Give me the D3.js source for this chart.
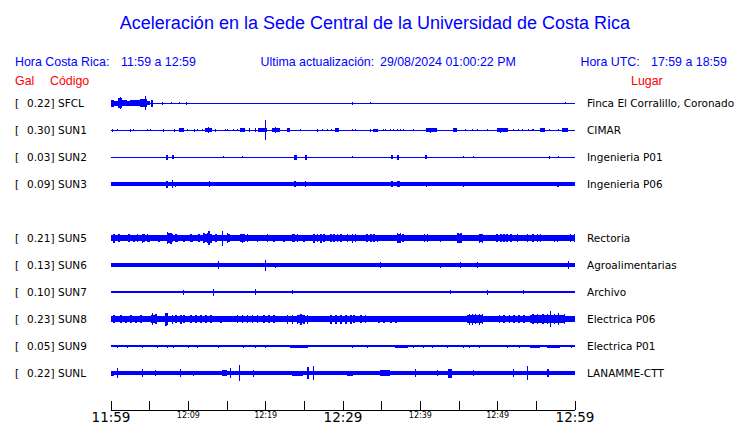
<!DOCTYPE html>
<html><head><meta charset="utf-8">
<script src="https://cdn.jsdelivr.net/npm/d3@7"></script>
<style>body{margin:0;background:#fff}svg{display:block}</style>
</head><body>
<script>
// ---- data ----
const title = "Aceleración en la Sede Central de la Universidad de Costa Rica";
const horaCR = "11:59 a 12:59";
const horaUTC = "17:59 a 18:59";
const actualizacion = "29/08/2024 01:00:22 PM";
const slots = ["SFCL","SUN1","SUN2","SUN3","gap","SUN5","SUN6","SUN7","SUN8","SUN9","SUNL"];
const codes = ["SFCL","SUN1","SUN2","SUN3","SUN5","SUN6","SUN7","SUN8","SUN9","SUNL"];
const gals = [0.22,0.30,0.03,0.09,0.21,0.13,0.10,0.23,0.05,0.22];
const lugares = ["Finca El Corralillo, Coronado","CIMAR","Ingenieria P01","Ingenieria P06","Rectoria","Agroalimentarias","Archivo","Electrica P06","Electrica P01","LANAMME-CTT"];
// background noise half-amplitude per station (relative units)
const baseAmp = [0.5,0.5,0.5,1.6,3,1.7,1.4,3,0.6,1.8];
// bursts: [start minute, end minute, half-amplitude]
const evSFCL = [[0.0,0.45,3.5],[0.45,1.0,2.5],[1.0,1.5,5],[1.2,1.35,6],[1.5,2.1,3],[2.1,2.5,2.5],[2.5,3.8,3],[3.8,4.7,4],[4.4,4.6,7],[4.7,5.1,2],[5.2,5.5,3.5],[6.6,6.8,1.5],[7.8,7.95,1],[8.9,9.05,1],[9.75,9.95,1.5],[31.2,31.4,1.5],[33.5,33.65,1],[58.8,58.95,1]];
const evSUN1 = [[0.19,0.32,1.5],[0.84,0.97,1],[2.5,2.65,1.5],[2.9,3.05,1],[4.7,4.85,1],[5.1,5.25,1],[6.8,6.95,1.5],[8.2,8.35,1.5],[8.86,9.5,2],[9.9,10.05,1],[10.8,10.95,1.5],[11.2,11.35,1],[11.84,12.0,1],[12.23,13.13,2],[12.6,12.75,3],[13.52,13.67,1.5],[14.8,14.95,1],[15.07,15.2,1],[15.85,16.0,1],[16.36,16.5,1],[16.75,17.4,2],[17.92,18.05,2],[18.69,18.85,2],[19.08,20.25,2],[19.99,20.12,10],[20.89,21.93,2],[21.3,21.45,3],[22.83,23.22,2],[24.51,24.65,1],[26.71,26.85,1.5],[27.36,27.5,1],[28.0,28.15,1],[28.52,28.65,1],[29.04,29.56,2],[31.24,31.4,1],[31.63,31.75,1],[33.57,33.7,1.5],[33.96,34.6,1.5],[35.25,35.4,1],[35.51,35.65,1],[36.16,36.3,1],[36.54,36.7,1],[37.06,37.2,1],[37.45,37.6,1],[37.84,38.0,1],[39.13,39.26,1],[40.81,42.24,2],[41.3,41.45,2.5],[44.31,44.82,2],[45.86,46.0,1],[46.77,46.9,1],[47.41,47.55,1],[48.7,48.85,1],[50.0,51.42,2],[50.4,50.55,2.5],[52.07,52.2,1],[52.72,52.85,1],[53.23,53.36,1],[54.01,54.15,1],[54.53,54.8,1],[55.56,56.21,2],[56.73,56.86,1],[57.89,58.0,1],[58.41,59.18,2]];
const evSUN2 = [[7.2,7.45,2.5],[7.96,8.15,2],[14.6,14.7,1],[16.95,17.1,1],[23.7,24.1,2.5],[25.1,25.45,2.5],[31.24,31.4,1],[36.3,36.55,2],[37.0,37.3,2.5],[40.7,40.95,2],[45.6,45.75,1],[46.89,47.0,0.8],[56.73,56.88,1.5],[57.89,58.0,1]];
const evSUN3 = [[7.2,7.45,3.5],[7.9,8.05,4],[8.3,8.45,2.5],[12.74,12.87,3],[23.74,24.0,3],[25.1,25.3,3],[31.24,31.4,2],[32.15,32.3,2],[36.3,36.55,3],[37.1,37.4,3],[40.8,40.95,2.5],[45.6,45.75,2.5],[55.17,55.3,2],[56.73,56.88,2],[57.8,58.0,2.5],[58.6,60,2]];
const evSUN5 = [[0.37,0.57,4.5],[1.01,1.21,4],[2.31,2.51,4],[2.95,3.15,3.5],[3.39,3.59,4],[4.03,4.23,4.5],[4.25,4.45,4],[4.68,4.88,4],[4.89,5.09,3.5],[6.19,6.39,3.5],[7.27,7.47,6],[7.48,7.68,5],[7.7,7.9,5.5],[7.91,8.11,4],[8.34,8.54,4],[8.56,8.76,3.5],[9.42,9.62,3.5],[10.28,10.48,4],[10.5,10.7,3.5],[11.36,11.56,4],[12.01,12.21,5],[12.22,12.42,4],[12.44,12.64,5],[12.66,12.86,7],[12.87,13.07,4.5],[13.52,13.72,4],[14.38,14.58,7.5],[15.03,15.23,5],[15.25,15.45,4],[16.76,16.96,4],[16.97,17.17,4.5],[17.19,17.39,4],[17.62,17.82,4],[18.91,19.11,3.5],[20.2,20.4,4],[21.06,21.26,3.5],[22.36,22.56,3.5],[23.44,23.64,4],[23.65,23.85,4],[24.08,24.28,4],[24.95,25.15,3.5],[26.24,26.44,4.5],[26.68,26.88,4],[27.11,27.31,4.5],[27.54,27.74,4],[28.4,28.6,4],[28.83,29.03,4],[29.26,29.46,4],[29.69,29.89,4],[30.55,30.75,4],[31.2,31.4,4.5],[31.6,31.8,4],[33.1,33.3,4],[33.6,33.8,4],[34.0,34.2,4],[34.4,34.6,3.5],[37.0,37.2,5],[37.2,37.4,4.5],[37.4,37.6,5],[37.7,37.9,4],[40.5,40.7,4],[40.9,41.1,4],[42.6,42.8,3.5],[44.8,45.0,5],[45.0,45.2,4.5],[45.2,45.4,5],[47.6,47.8,4.5],[47.8,48.0,4],[48.0,48.2,4.5],[49.9,50.1,4],[50.4,50.6,4],[50.8,51.0,4],[51.2,51.4,4],[51.7,51.9,4],[52.5,52.7,4],[53.8,54.0,4],[54.5,54.7,4],[55.1,55.3,4],[55.5,55.7,4],[57.3,57.5,3.5],[57.7,57.9,3.5],[59.4,59.6,4],[59.9,60,4]];
const evSUN6 = [[13.91,14.05,4],[19.99,20.12,5.5],[21.28,21.4,2.5],[34.86,35.0,3],[42.63,42.76,2.5],[45.21,45.34,3],[47.41,47.54,3],[59.18,59.3,4]];
const evSUN7 = [[9.38,9.5,2.5],[13.26,13.4,3.5],[18.69,18.82,3],[23.48,23.6,2],[43.92,44.05,2],[48.7,48.83,2.5],[53.36,53.5,2]];
const evSUN8 = [[0.37,0.57,3.8],[1.23,1.43,3.8],[1.88,2.08,3.5],[2.52,2.72,3.8],[3.17,3.37,3.5],[3.82,4.02,3.8],[5.2,6.0,3.8],[5.33,5.53,6],[5.76,5.96,5],[7.05,7.25,6.5],[7.27,7.47,6],[7.91,8.11,4.5],[8.34,8.54,4],[8.99,9.19,4.5],[9.42,9.62,4],[10.28,10.48,4],[10.93,11.13,4],[11.58,11.78,4],[12.22,12.42,4],[12.87,13.07,4],[14.17,14.37,3.5],[16.32,16.52,4],[16.97,17.17,4],[17.62,17.82,4],[18.27,18.47,4],[18.91,19.11,4],[19.77,19.97,4],[20.42,20.62,4],[21.06,21.26,4],[22.79,22.99,4.5],[23.44,23.64,4.5],[24.08,24.28,4.5],[24.3,25.2,3.8],[24.51,24.71,5.5],[24.95,25.15,4.5],[25.38,25.58,4.5],[28.4,28.6,4.5],[29.05,29.25,4.5],[29.69,29.89,4.5],[30.33,30.53,4.5],[30.98,31.18,4.5],[31.4,31.6,4],[32.3,32.5,4],[32.9,33.1,4],[34.6,34.8,3.5],[35.3,35.5,3.5],[36.2,36.4,3.5],[36.8,37.0,3.5],[46.1,48.2,4],[46.3,46.5,5.5],[46.7,46.9,5.5],[47.1,47.3,5],[47.6,47.8,5.5],[48.0,48.2,5],[50.2,50.4,4],[50.8,51.0,4],[51.5,51.7,4],[52.1,52.3,4],[52.7,52.9,4],[53.4,53.6,4],[54.3,58.7,3.8],[54.5,54.7,5],[55.1,55.3,5],[55.8,56.0,5],[56.4,56.6,5],[56.8,56.95,8],[57.3,57.5,5],[57.9,58.05,6],[58.6,58.8,5]];
const evSUN9 = [[0.84,0.97,1.5],[2.13,2.26,1.5],[2.91,3.04,1.2],[4.08,4.21,1.5],[5.37,5.5,1.2],[6.02,6.15,1.5],[7.31,7.44,1.5],[8.09,8.22,1.5],[8.99,9.12,1.2],[10.03,10.16,1.5],[11.19,11.32,1.5],[12.23,12.36,1.2],[13.91,14.04,1.5],[14.81,14.94,1.2],[17.14,17.27,1.5],[18.3,18.43,1.2],[18.69,18.82,1.5],[19.99,20.12,1.5],[21.93,22.06,1.2],[23.2,25.55,1.5],[31.24,31.37,1.5],[32.28,32.41,1.2],[33.18,33.31,1.5],[36.8,38.5,1.5],[39.13,39.26,1.5],[40.43,40.56,1.5],[41.0,41.13,1.2],[41.6,41.73,1.5],[43.53,43.66,1.5],[44.18,44.31,1.2],[45.6,45.73,1.5],[46.3,46.43,1.5],[46.9,47.03,1.2],[47.6,47.73,1.5],[49.48,49.61,1.2],[51.29,51.42,1.5],[52.0,52.13,1.2],[52.85,52.98,1.5],[54.27,55.56,1.5],[56.47,58.15,1.5],[59.57,59.7,1.5]];
const evSUNL = [[0,0.5,2.5],[0.84,0.97,5],[4.08,4.21,4],[5.76,5.89,3],[8.99,9.12,4],[10.67,10.8,2.5],[14.42,15.07,3],[15.46,15.59,5],[16.62,16.75,8],[18.43,18.56,3.5],[23.48,24.9,2.5],[25.42,25.68,6],[26.2,26.33,7],[30.6,31.37,2.5],[34.86,36.16,3],[39.39,39.52,4],[42.2,42.33,3],[43.66,44.18,4.5],[46.9,47.03,3],[52.07,52.2,4],[53.88,54.01,7],[56.4,56.7,4]];
const events = [evSFCL,evSUN1,evSUN2,evSUN3,evSUN5,evSUN6,evSUN7,evSUN8,evSUN9,evSUNL];
const tickMinutes = [0,5,10,15,20,25,30,35,40,45,50,55,60];
const tickLabels = ["11:59","","12:09","","12:19","","12:29","","12:39","","12:49","","12:59"];
const majorLabels = ["11:59","12:29","12:59"];

// ---- drawing ----
const W = 740, H = 423;
const svg = d3.select("body").append("svg").attr("width", W).attr("height", H);
const blue = "#0000ff", red = "#ff0000";
const sans = "'Liberation Sans', Arial, sans-serif";
const dv = "'DejaVu Sans', sans-serif";

svg.append("text").attr("x", 375).attr("y", 29).attr("text-anchor", "middle")
  .attr("font-family", sans).attr("font-size", 18).attr("fill", blue).text(title);

const hdr = [["Hora Costa Rica:",15],[horaCR,121],["Ultima actualización:",260.5],[actualizacion,380],["Hora UTC:",580.5],[horaUTC,651]];
svg.selectAll("text.hdr").data(hdr).join("text").attr("class","hdr")
  .attr("x", d => d[1]).attr("y", 65.5).attr("font-family", sans).attr("font-size", 12.4)
  .attr("fill", blue).text(d => d[0]);
const red_ = [["Gal",15],["Código",50],["Lugar",631]];
svg.selectAll("text.red").data(red_).join("text").attr("class","red")
  .attr("x", d => d[1]).attr("y", 85).attr("font-family", sans).attr("font-size", 12.4)
  .attr("fill", red).text(d => d[0]);

const x = d3.scaleLinear().domain([0, 60]).range([110.5, 574.5]);
const yRow = d3.scalePoint().domain(slots).range([103, 373]);
const amp = d3.scaleLinear().domain([-13.5, 13.5]).range([13.5, -13.5]);
const fs = 10.5;

codes.forEach((code, i) => {
  const cy = yRow(code);
  const g = svg.append("g").attr("transform", `translate(0,${cy})`);
  g.append("text").attr("x", 15).attr("y", 4).attr("font-family", dv).attr("font-size", fs).text("[");
  g.append("text").attr("x", 54.5).attr("y", 4).attr("text-anchor", "end").attr("font-family", dv).attr("font-size", fs).text(gals[i].toFixed(2) + "]");
  g.append("text").attr("x", 58).attr("y", 4).attr("font-family", dv).attr("font-size", fs).text(code);
  g.append("text").attr("x", 587).attr("y", 4).attr("font-family", dv).attr("font-size", fs).text(lugares[i]);
  const segs = [[0, 60, baseAmp[i]]].concat(events[i]);
  g.selectAll("rect").data(segs).join("rect")
    .attr("x", d => x(d[0]))
    .attr("width", d => Math.max(1, x(d[1]) - x(d[0])))
    .attr("y", d => amp(d[2]))
    .attr("height", d => amp(-d[2]) - amp(d[2]))
    .attr("fill", blue).attr("shape-rendering", "crispEdges");
});

// time axis
const axis = d3.axisBottom(x).tickValues(tickMinutes).tickSizeInner(-9).tickSizeOuter(0)
  .tickPadding(0).tickFormat(() => "");
const ag = svg.append("g").attr("transform", "translate(0,409.5)").call(axis);
ag.selectAll("path,line").attr("stroke", "#000").attr("shape-rendering", "crispEdges");
ag.selectAll(".tick").each(function(d, i) {
  const lab = tickLabels[i];
  if (!lab) return;
  const major = majorLabels.includes(lab);
  d3.select(this).append("text").attr("y", major ? 12 : 8).attr("text-anchor", "middle")
    .attr("font-family", dv).attr("font-size", major ? 13.5 : 8).attr("fill", "#000")
    .text(lab);
});
</script>
</body></html>
